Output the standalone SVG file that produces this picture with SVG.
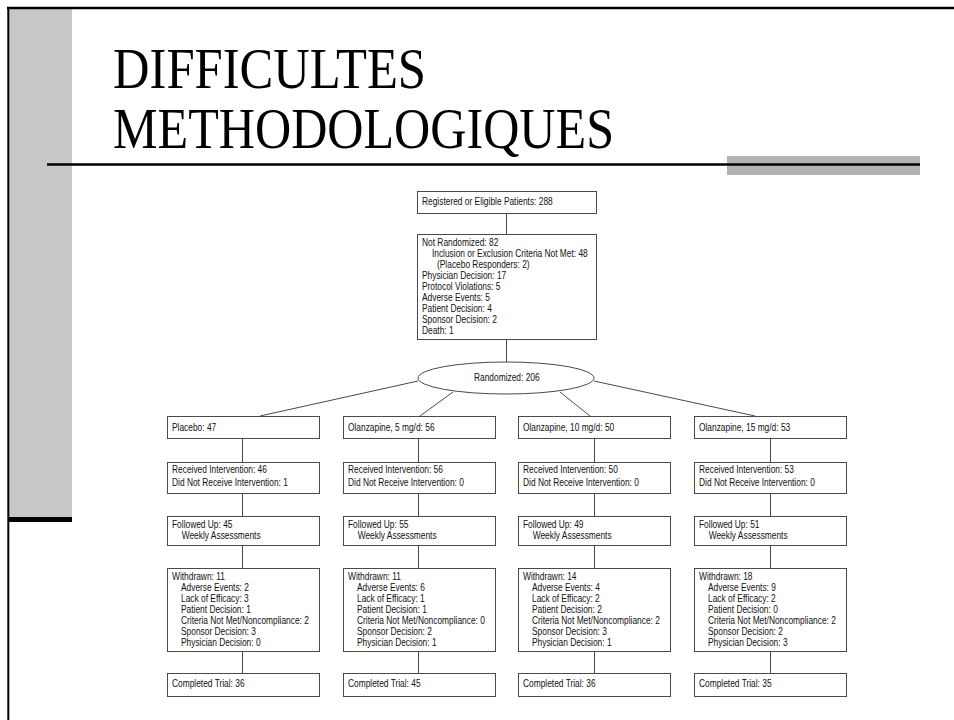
<svg xmlns="http://www.w3.org/2000/svg" width="954" height="720" viewBox="0 0 954 720">
<style>
.frame{stroke:#000;fill:none}
.box{fill:#fff;stroke:#4a4a4a;stroke-width:1}
.con{stroke:#4a4a4a;stroke-width:1;fill:none}
.t{font-family:"Liberation Sans",Arial,sans-serif;font-size:10.6px;fill:#111}
.title{font-family:"Liberation Serif","Times New Roman",serif;font-size:57px;fill:#000}
</style>
<rect width="954" height="720" fill="#fff"/>
<g id="frame">
<rect x="9" y="9" width="63" height="508" fill="#c8c8c8"/>
<rect x="8" y="517" width="64" height="5" fill="#000"/>
<line class="frame" x1="7" y1="8" x2="954" y2="8" stroke-width="2.5"/>
<line class="frame" x1="8.3" y1="7" x2="8.3" y2="720" stroke-width="2"/>
<rect x="727" y="156" width="193" height="19" fill="#b3b3b3"/>
<line class="frame" x1="47" y1="164.5" x2="920" y2="164.5" stroke-width="2.7"/>
</g>
<g id="title">
<text class="title" x="113" y="88" textLength="313" lengthAdjust="spacingAndGlyphs">DIFFICULTES</text>
<text class="title" x="113" y="148" textLength="501" lengthAdjust="spacingAndGlyphs">METHODOLOGIQUES</text>
</g>
<g id="connectors">
<line class="con" x1="506.5" y1="213" x2="506.5" y2="234"/>
<line class="con" x1="506.5" y1="339" x2="506.5" y2="362"/>
<line class="con" x1="418" y1="381" x2="260" y2="416"/>
<line class="con" x1="453" y1="392" x2="420" y2="416"/>
<line class="con" x1="560" y1="392" x2="590" y2="416"/>
<line class="con" x1="594" y1="381" x2="755" y2="416"/>
<path class="con" d="M242.5 438V462M242.5 493V516M242.5 545V568M242.5 651V673"/>
<path class="con" d="M418.5 438V462M418.5 493V516M418.5 545V568M418.5 651V673"/>
<path class="con" d="M594.5 438V462M594.5 493V516M594.5 545V568M594.5 651V673"/>
<path class="con" d="M770.5 438V462M770.5 493V516M770.5 545V568M770.5 651V673"/>
</g>
<g id="registered">
<rect class="box" x="417.5" y="191.5" width="179" height="22"/>
<g transform="translate(422,0) scale(0.79,1)"><text class="t" x="0" y="205.5">Registered or Eligible Patients: 288</text></g>
</g>
<g id="not-randomized">
<rect class="box" x="417.5" y="234.5" width="179" height="105"/>
<g transform="translate(422,0) scale(0.79,1)">
<text class="t" x="0" y="246.5">Not Randomized: 82</text>
<text class="t" x="12.6" y="257.4">Inclusion or Exclusion Criteria Not Met: 48</text>
<text class="t" x="19" y="268.3">(Placebo Responders: 2)</text>
<text class="t" x="0" y="279.2">Physician Decision: 17</text>
<text class="t" x="0" y="290.1">Protocol Violations: 5</text>
<text class="t" x="0" y="301">Adverse Events: 5</text>
<text class="t" x="0" y="311.9">Patient Decision: 4</text>
<text class="t" x="0" y="322.8">Sponsor Decision: 2</text>
<text class="t" x="0" y="333.7">Death: 1</text>
</g>
</g>
<g id="randomized">
<ellipse class="box" cx="506" cy="378" rx="88" ry="16"/>
<g transform="translate(474,0) scale(0.79,1)"><text class="t" x="0" y="381.5">Randomized: 206</text></g>
</g>
<!-- Column 1 -->
<g id="placebo">
<rect class="box" x="167.5" y="416.5" width="152" height="22"/>
<g transform="translate(172,0) scale(0.79,1)"><text class="t" x="0" y="431">Placebo: 47</text></g>
</g>
<g id="received-1">
<rect class="box" x="167.5" y="462.5" width="152" height="31"/>
<g transform="translate(172,0) scale(0.79,1)"><text class="t" x="0" y="473.5">Received Intervention: 46</text><text class="t" x="0" y="486">Did Not Receive Intervention: 1</text></g>
</g>
<g id="followed-1">
<rect class="box" x="167.5" y="516.5" width="152" height="29"/>
<g transform="translate(172,0) scale(0.79,1)"><text class="t" x="0" y="528">Followed Up: 45</text><text class="t" x="12.3" y="539.5">Weekly Assessments</text></g>
</g>
<g id="withdrawn-1">
<rect class="box" x="167.5" y="568.5" width="152" height="83"/>
<g transform="translate(172,0) scale(0.79,1)">
<text class="t" x="0" y="580.5">Withdrawn: 11</text>
<text class="t" x="11.4" y="591.5">Adverse Events: 2</text>
<text class="t" x="11.4" y="602.5">Lack of Efficacy: 3</text>
<text class="t" x="11.4" y="613.5">Patient Decision: 1</text>
<text class="t" x="11.4" y="624.5">Criteria Not Met/Noncompliance: 2</text>
<text class="t" x="11.4" y="635.5">Sponsor Decision: 3</text>
<text class="t" x="11.4" y="646.5">Physician Decision: 0</text>
</g>
</g>
<g id="completed-1">
<rect class="box" x="167.5" y="673.5" width="152" height="23"/>
<g transform="translate(172,0) scale(0.79,1)"><text class="t" x="0" y="687">Completed Trial: 36</text></g>
</g>
<!-- Column 2 -->
<g id="olz5">
<rect class="box" x="343.5" y="416.5" width="152" height="22"/>
<g transform="translate(348,0) scale(0.79,1)"><text class="t" x="0" y="431">Olanzapine, 5 mg/d: 56</text></g>
</g>
<g id="received-2">
<rect class="box" x="343.5" y="462.5" width="152" height="31"/>
<g transform="translate(348,0) scale(0.79,1)"><text class="t" x="0" y="473.5">Received Intervention: 56</text><text class="t" x="0" y="486">Did Not Receive Intervention: 0</text></g>
</g>
<g id="followed-2">
<rect class="box" x="343.5" y="516.5" width="152" height="29"/>
<g transform="translate(348,0) scale(0.79,1)"><text class="t" x="0" y="528">Followed Up: 55</text><text class="t" x="12.3" y="539.5">Weekly Assessments</text></g>
</g>
<g id="withdrawn-2">
<rect class="box" x="343.5" y="568.5" width="152" height="83"/>
<g transform="translate(348,0) scale(0.79,1)">
<text class="t" x="0" y="580.5">Withdrawn: 11</text>
<text class="t" x="11.4" y="591.5">Adverse Events: 6</text>
<text class="t" x="11.4" y="602.5">Lack of Efficacy: 1</text>
<text class="t" x="11.4" y="613.5">Patient Decision: 1</text>
<text class="t" x="11.4" y="624.5">Criteria Not Met/Noncompliance: 0</text>
<text class="t" x="11.4" y="635.5">Sponsor Decision: 2</text>
<text class="t" x="11.4" y="646.5">Physician Decision: 1</text>
</g>
</g>
<g id="completed-2">
<rect class="box" x="343.5" y="673.5" width="152" height="23"/>
<g transform="translate(348,0) scale(0.79,1)"><text class="t" x="0" y="687">Completed Trial: 45</text></g>
</g>
<!-- Column 3 -->
<g id="olz10">
<rect class="box" x="518.5" y="416.5" width="152" height="22"/>
<g transform="translate(523,0) scale(0.79,1)"><text class="t" x="0" y="431">Olanzapine, 10 mg/d: 50</text></g>
</g>
<g id="received-3">
<rect class="box" x="518.5" y="462.5" width="152" height="31"/>
<g transform="translate(523,0) scale(0.79,1)"><text class="t" x="0" y="473.5">Received Intervention: 50</text><text class="t" x="0" y="486">Did Not Receive Intervention: 0</text></g>
</g>
<g id="followed-3">
<rect class="box" x="518.5" y="516.5" width="152" height="29"/>
<g transform="translate(523,0) scale(0.79,1)"><text class="t" x="0" y="528">Followed Up: 49</text><text class="t" x="12.3" y="539.5">Weekly Assessments</text></g>
</g>
<g id="withdrawn-3">
<rect class="box" x="518.5" y="568.5" width="152" height="83"/>
<g transform="translate(523,0) scale(0.79,1)">
<text class="t" x="0" y="580.5">Withdrawn: 14</text>
<text class="t" x="11.4" y="591.5">Adverse Events: 4</text>
<text class="t" x="11.4" y="602.5">Lack of Efficacy: 2</text>
<text class="t" x="11.4" y="613.5">Patient Decision: 2</text>
<text class="t" x="11.4" y="624.5">Criteria Not Met/Noncompliance: 2</text>
<text class="t" x="11.4" y="635.5">Sponsor Decision: 3</text>
<text class="t" x="11.4" y="646.5">Physician Decision: 1</text>
</g>
</g>
<g id="completed-3">
<rect class="box" x="518.5" y="673.5" width="152" height="23"/>
<g transform="translate(523,0) scale(0.79,1)"><text class="t" x="0" y="687">Completed Trial: 36</text></g>
</g>
<!-- Column 4 -->
<g id="olz15">
<rect class="box" x="694.5" y="416.5" width="152" height="22"/>
<g transform="translate(699,0) scale(0.79,1)"><text class="t" x="0" y="431">Olanzapine, 15 mg/d: 53</text></g>
</g>
<g id="received-4">
<rect class="box" x="694.5" y="462.5" width="152" height="31"/>
<g transform="translate(699,0) scale(0.79,1)"><text class="t" x="0" y="473.5">Received Intervention: 53</text><text class="t" x="0" y="486">Did Not Receive Intervention: 0</text></g>
</g>
<g id="followed-4">
<rect class="box" x="694.5" y="516.5" width="152" height="29"/>
<g transform="translate(699,0) scale(0.79,1)"><text class="t" x="0" y="528">Followed Up: 51</text><text class="t" x="12.3" y="539.5">Weekly Assessments</text></g>
</g>
<g id="withdrawn-4">
<rect class="box" x="694.5" y="568.5" width="152" height="83"/>
<g transform="translate(699,0) scale(0.79,1)">
<text class="t" x="0" y="580.5">Withdrawn: 18</text>
<text class="t" x="11.4" y="591.5">Adverse Events: 9</text>
<text class="t" x="11.4" y="602.5">Lack of Efficacy: 2</text>
<text class="t" x="11.4" y="613.5">Patient Decision: 0</text>
<text class="t" x="11.4" y="624.5">Criteria Not Met/Noncompliance: 2</text>
<text class="t" x="11.4" y="635.5">Sponsor Decision: 2</text>
<text class="t" x="11.4" y="646.5">Physician Decision: 3</text>
</g>
</g>
<g id="completed-4">
<rect class="box" x="694.5" y="673.5" width="152" height="23"/>
<g transform="translate(699,0) scale(0.79,1)"><text class="t" x="0" y="687">Completed Trial: 35</text></g>
</g>
</svg>
